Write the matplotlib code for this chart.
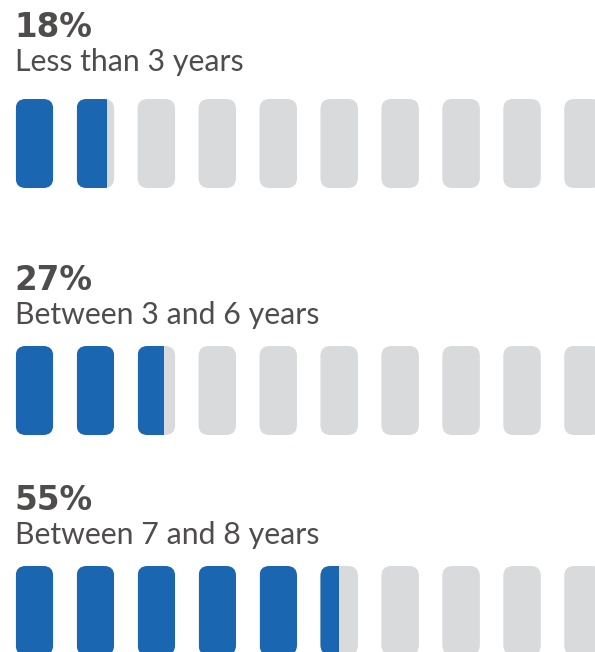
import matplotlib
matplotlib.use("Agg")
import matplotlib.pyplot as plt
from matplotlib.patches import FancyBboxPatch, Rectangle

# ---- data ----
percents = [18, 27, 55]
labels = ["Less than 3 years", "Between 3 and 6 years", "Between 7 and 8 years"]
n_icons = 10

# ---- style / layout ----
W, H = 595, 652
blue = "#1a66b0"
grey = "#d9dadc"
text_col = "#4f4c4c"

row_bar_top = [99, 346, 566]
row_pct_base = [37, 290, 510]
row_lab_base = [71, 324, 544]
x0, pitch, bw, bh, rad = 15.7, 60.95, 37.5, 89, 10

fig = plt.figure(figsize=(W / 100, H / 100), dpi=100)
ax = fig.add_axes([0, 0, 1, 1])
ax.set_xlim(0, W)
ax.set_ylim(H, 0)
ax.axis("off")

for r, (p, lab) in enumerate(zip(percents, labels)):
    ax.text(x0 - 1, row_pct_base[r], f"{p}%", fontsize=23.5, fontweight="bold",
            family="DejaVu Sans", color=text_col, va="baseline", ha="left")
    ax.text(x0 - 1, row_lab_base[r], lab, fontsize=21.8, family="Lato",
            color=text_col, va="baseline", ha="left")
    filled = p / 100 * n_icons
    y = row_bar_top[r]
    for i in range(n_icons):
        x = x0 + i * pitch
        box = FancyBboxPatch((x + rad, y + rad), bw - 2 * rad, bh - 2 * rad,
                             boxstyle=f"round,pad={rad}", fc=grey, ec="none")
        ax.add_patch(box)
        frac = min(max(filled - i, 0), 1)
        if frac > 0:
            b2 = FancyBboxPatch((x + rad, y + rad), bw - 2 * rad, bh - 2 * rad,
                                boxstyle=f"round,pad={rad}", fc=blue, ec="none")
            ax.add_patch(b2)
            clip = Rectangle((x, y), bw * frac, bh, transform=ax.transData)
            b2.set_clip_path(clip)

fig.savefig("out.png", dpi=100)
